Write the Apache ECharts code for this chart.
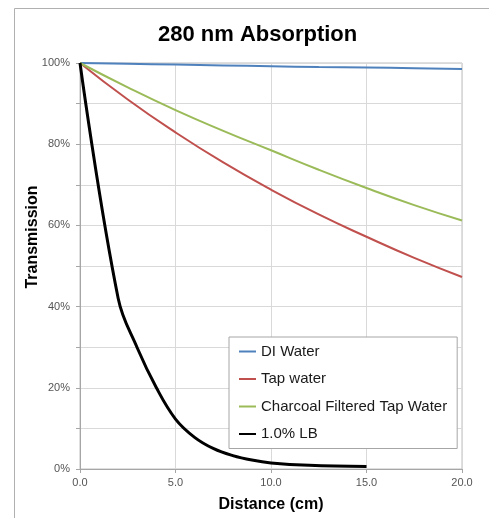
<!DOCTYPE html>
<html>
<head>
<meta charset="utf-8">
<script src="https://cdn.jsdelivr.net/npm/echarts@6/dist/echarts.min.js"></script>
<style>
  html, body { margin: 0; padding: 0; background: #fff; }
  #chart { width: 489px; height: 518px; }
</style>
</head>
<body>
<div id="chart"></div>
<script>
// distances (cm) where the water curves were read
const distance = [0, 2.5, 5, 7.5, 10, 12.5, 15, 17.5, 20];
const diWater = [100, 99.8, 99.6, 99.4, 99.2, 99.0, 98.9, 98.7, 98.5];
const tapWater = [100, 91.0, 82.9, 75.5, 68.8, 62.7, 57.2, 52.0, 47.3];
const charcoalWater = [100, 94.0, 88.4, 83.3, 78.5, 73.7, 69.2, 65.0, 61.2];

// 1.0% LB broth
const lbDistance = [0, 2, 3, 4, 5, 6, 7, 8, 9, 10, 12, 15];
const lbBroth = [100, 42, 29.8, 20, 12.3, 7.8, 5.0, 3.3, 2.2, 1.5, 0.9, 0.6];

const seriesNames = ['DI Water', 'Tap water', 'Charcoal Filtered Tap Water', '1.0% LB'];
const seriesColors = ['#4F81BD', '#C0504D', '#9BBB59', '#000000'];

const pairs = (xs, ys) => xs.map((x, i) => [x, ys[i]]);

const chart = echarts.init(document.getElementById('chart'));

const font = 'Liberation Sans, Arial, sans-serif';
const gridColor = '#d9d9d9';

const option = {
  backgroundColor: '#fff',
  animation: false,
  textStyle: { fontFamily: font },
  title: {
    text: '280 nm Absorption',
    left: 153,
    top: 19,
    textStyle: { fontFamily: font, fontSize: 22, fontWeight: 'bold', color: '#000' }
  },
  graphic: [
    {
      type: 'rect',
      shape: { x: 14.5, y: 8.5, width: 600, height: 600 },
      style: { fill: 'none', stroke: '#b0b0b0', lineWidth: 1 },
      silent: true,
      z: -1
    },
    {
      type: 'text',
      x: 33,
      y: 237,
      rotation: Math.PI / 2,
      style: {
        text: 'Transmission',
        fontFamily: font,
        fontSize: 16,
        fontWeight: 'bold',
        fill: '#000',
        align: 'center',
        verticalAlign: 'middle'
      }
    }
  ],
  grid: {
    left: 80,
    top: 63,
    right: 27,
    bottom: 43,
    show: true,
    borderColor: '#bfbfbf',
    borderWidth: 1
  },
  legend: {
    orient: 'vertical',
    left: 229,
    top: 337,
    padding: [7, 10, 7, 9],
    itemGap: 12.5,
    itemWidth: 17,
    itemHeight: 14,
    backgroundColor: '#fff',
    borderColor: '#a6a6a6',
    borderWidth: 1,
    borderRadius: 0,
    data: seriesNames,
    itemStyle: { opacity: 0 },
    textStyle: { fontFamily: font, fontSize: 15, color: '#1a1a1a' }
  },
  xAxis: {
    type: 'value',
    min: 0,
    max: 20,
    interval: 5,
    name: 'Distance (cm)',
    nameLocation: 'middle',
    nameGap: 28,
    nameTextStyle: { fontFamily: font, fontSize: 16, fontWeight: 'bold', color: '#000' },
    axisLine: { show: true, onZero: false, lineStyle: { color: '#a6a6a6' } },
    axisTick: { show: true, length: 4, lineStyle: { color: '#a6a6a6' } },
    axisLabel: {
      margin: 8,
      fontSize: 11,
      color: '#555',
      formatter: v => v.toFixed(1)
    },
    splitLine: { show: true, lineStyle: { color: gridColor } }
  },
  yAxis: {
    type: 'value',
    min: 0,
    max: 100,
    interval: 20,
    axisLine: { show: true, lineStyle: { color: '#a6a6a6' } },
    axisTick: { show: true, length: 4, lineStyle: { color: '#a6a6a6' } },
    minorTick: { show: true, splitNumber: 2, length: 4, lineStyle: { color: '#a6a6a6' } },
    minorSplitLine: { show: true, lineStyle: { color: gridColor } },
    axisLabel: {
      margin: 10,
      fontSize: 11,
      color: '#555',
      formatter: v => v + '%'
    },
    splitLine: { show: true, lineStyle: { color: gridColor } }
  },
  series: [
    {
      name: seriesNames[0],
      type: 'line',
      data: pairs(distance, diWater),
      smooth: true,
      symbol: 'none',
      lineStyle: { color: seriesColors[0], width: 2 },
      itemStyle: { color: seriesColors[0] }
    },
    {
      name: seriesNames[1],
      type: 'line',
      data: pairs(distance, tapWater),
      smooth: true,
      symbol: 'none',
      lineStyle: { color: seriesColors[1], width: 2 },
      itemStyle: { color: seriesColors[1] }
    },
    {
      name: seriesNames[2],
      type: 'line',
      data: pairs(distance, charcoalWater),
      smooth: true,
      symbol: 'none',
      lineStyle: { color: seriesColors[2], width: 2 },
      itemStyle: { color: seriesColors[2] }
    },
    {
      name: seriesNames[3],
      type: 'line',
      data: pairs(lbDistance, lbBroth),
      smooth: 0.4,
      symbol: 'none',
      lineStyle: { color: seriesColors[3], width: 3 },
      itemStyle: { color: seriesColors[3] }
    }
  ]
};

chart.setOption(option);
</script>
</body>
</html>
